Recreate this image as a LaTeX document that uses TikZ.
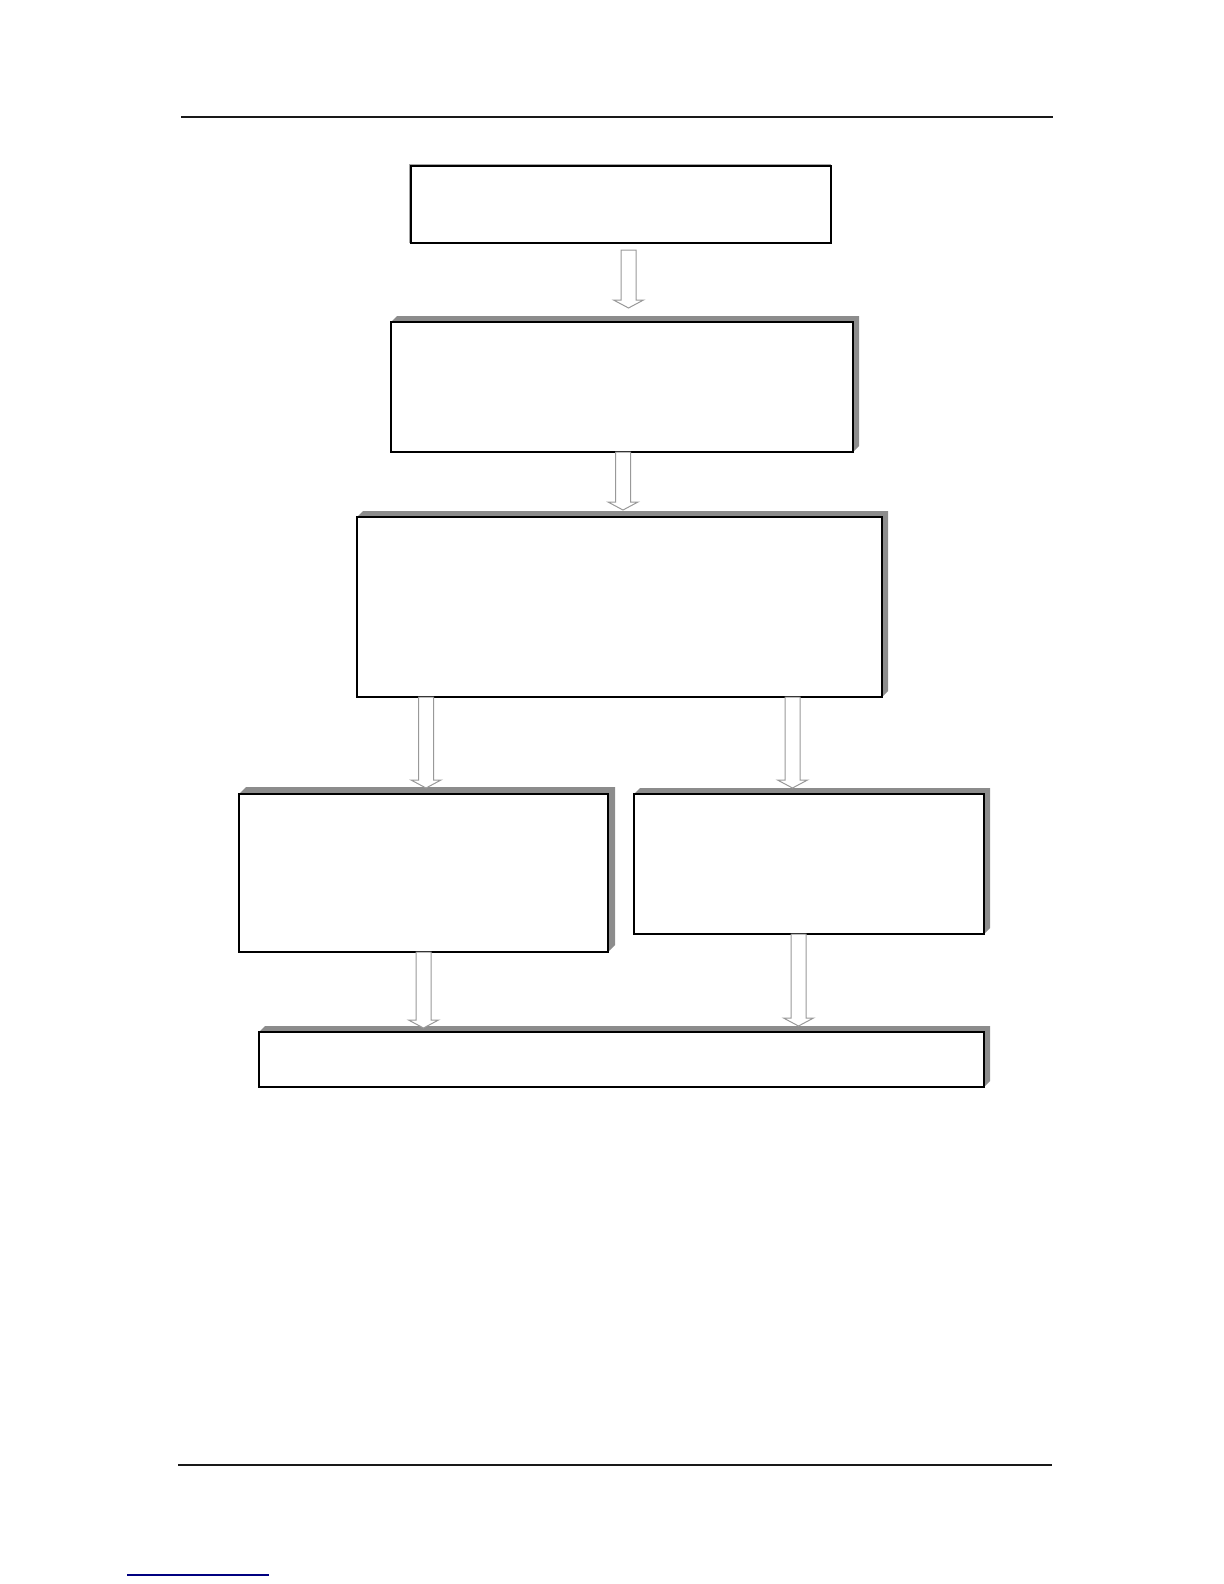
\documentclass[tikz,border=0pt]{standalone}
\usetikzlibrary{calc}
\pgfdeclarelayer{back}
\pgfsetlayers{back,main}
\tikzset{
  stagebox/.style={draw=black, line width=0.55pt, fill=white, rectangle, inner sep=0pt, outer sep=0pt, anchor=north west},
  pagerule/.style={line width=0.9pt, black!90},
  flowline/.style={draw=black!40, fill=white, line width=0.5pt, line join=miter},
  face/.style={fill=black!45}
}
\newcommand{\extrude}[2]{\fill[face] (#1.north west) -- ++(#2,-#2) -- ($(#1.north east)+(#2,-#2)$) -- ($(#1.south east)+(#2,-#2)$) -- (#1.south east) -- (#1.north east) -- cycle;}
\newcommand{\flowarrow}[5]{\draw[flowline] let \p1=(#1,0), \p2=(#2.south), \p3=(#3.north) in
  (\x1-3.75pt,\y2-#4) -- (\x1-3.75pt,\y3+#5+4pt) -- (\x1-7.5pt,\y3+#5+4pt) -- (\x1,\y3+#5) -- (\x1+7.5pt,\y3+#5+4pt) -- (\x1+3.75pt,\y3+#5+4pt) -- (\x1+3.75pt,\y2-#4) -- cycle;}
\begin{document}
\begin{tikzpicture}[x=0.5pt, y=-0.5pt]
\useasboundingbox (0,0) rectangle (1224,1584);
\draw[pagerule] (181,117) -- (1053,117);
\draw[pagerule] (178,1465) -- (1052,1465);
\draw[blue!50!black, line width=0.6pt] (127,1575) -- (269,1575);
\node[stagebox, minimum width=210pt, minimum height=38.5pt] (b1) at (411,166) {};
\node[stagebox, minimum width=231pt, minimum height=65pt] (b2) at (391,322) {};
\node[stagebox, minimum width=262.5pt, minimum height=90pt] (b3) at (357,517) {};
\node[stagebox, minimum width=184.5pt, minimum height=79pt] (b4) at (239,794) {};
\node[stagebox, minimum width=175pt, minimum height=70pt] (b5) at (634,794) {};
\node[stagebox, minimum width=362.5pt, minimum height=27.5pt] (b6) at (259,1032) {};
\begin{pgfonlayer}{back}
\draw[black!35, line width=0.6pt] ($(b1.south west)+(-1.5,0)$) -- ($(b1.north west)+(-1.5,-1.5)$) -- ($(b1.north east)+(0,-1.5)$);
\extrude{b2}{6}
\extrude{b3}{6}
\extrude{b4}{7}
\extrude{b5}{6}
\extrude{b6}{6}
\end{pgfonlayer}
\flowarrow{628.5}{b1}{b2}{3.5pt}{7pt}
\flowarrow{623}{b2}{b3}{0pt}{3.5pt}
\flowarrow{426}{b3}{b4}{0pt}{3pt}
\flowarrow{792.5}{b3}{b5}{0pt}{3pt}
\flowarrow{423.5}{b4}{b6}{0pt}{2pt}
\flowarrow{798.5}{b5}{b6}{0pt}{3pt}
\end{tikzpicture}
\end{document}
